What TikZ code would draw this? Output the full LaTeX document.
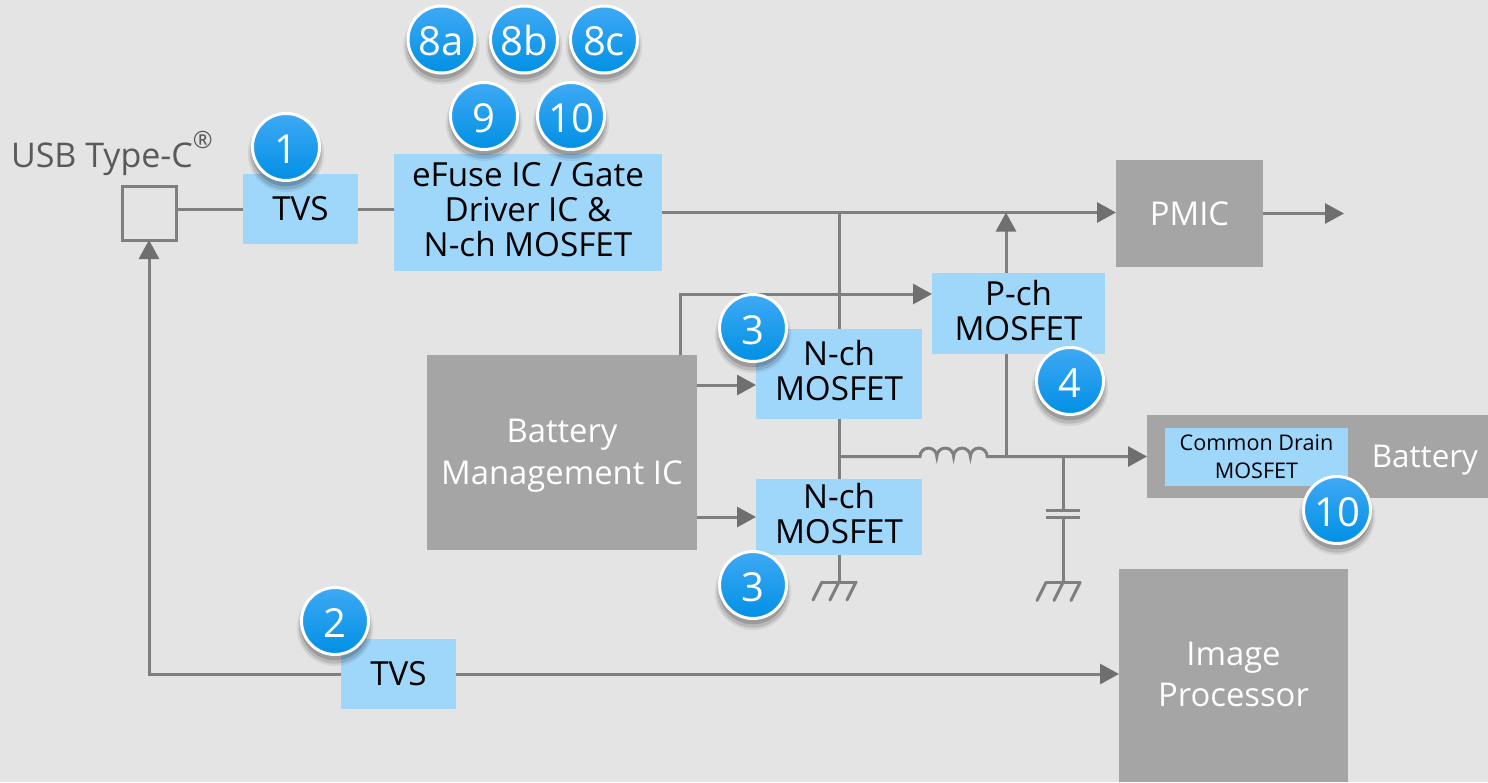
\documentclass[tikz,border=0pt]{standalone}
\usepackage{fontspec}
\setmainfont{Open Sans}
\usetikzlibrary{positioning,arrows.meta,shadows}
\definecolor{pagegray}{HTML}{E4E4E4}
\definecolor{wiregray}{HTML}{7F7F7F}
\definecolor{tipgray}{HTML}{6F6F6F}
\definecolor{boxgray}{HTML}{A5A5A5}
\definecolor{partblue}{HTML}{9FD7FB}
\definecolor{labelgray}{HTML}{595959}
\definecolor{badgetop}{HTML}{3FA9F5}
\definecolor{badgemid}{HTML}{04A0FB}
\definecolor{badgelow}{HTML}{0090E4}
\newcommand{\partfont}{\fontsize{16.6}{17.5}\selectfont}
\newcommand{\blockfont}{\fontsize{16.4}{21}\selectfont}
\newcommand{\badgesize}{33.5pt}
\tikzstyle{wire}=[draw=wiregray,line width=1.5pt]
\tikzstyle{arrowwire}=[wire,-{Triangle[length=9.5pt,width=10pt,color=tipgray]}]
\tikzstyle{port}=[fill=none,draw=wiregray,line width=1.5pt,shape=rectangle,
                  minimum size=27pt,outer sep=0pt]
\tikzstyle{part}=[fill=partblue,text=black,draw=none,shape=rectangle,inner sep=0pt,
                  outer sep=0pt,align=center,font=\partfont]
\tikzstyle{block}=[fill=boxgray,text=white,draw=none,shape=rectangle,inner sep=0pt,
                   outer sep=0pt,align=center,font=\blockfont]
\tikzstyle{caption}=[fill=none,draw=none,inner sep=0pt,outer sep=0pt]
\tikzstyle{badge}=[shape=circle,draw=white,line width=1.5pt,minimum size=\badgesize,
                   inner sep=0pt,outer sep=0pt,text=white,text height=16.3pt,text depth=0pt,
                   top color=badgetop,middle color=badgemid,bottom color=badgelow,
                   font=\fontsize{20}{20}\selectfont,
                   drop shadow={shadow xshift=0pt,shadow yshift=-3pt,shadow scale=1.14,fill=black,opacity=.07},
                   drop shadow={shadow xshift=0pt,shadow yshift=-3pt,shadow scale=1.08,fill=black,opacity=.12},
                   drop shadow={shadow xshift=0pt,shadow yshift=-2.5pt,shadow scale=1.02,fill=black,opacity=.16}]
\newcommand{\groundsym}[1]{
  \draw [wire, line cap=round] (#1) ++(-8.5pt,0) -- ++(17pt,0);
  \foreach \offs in {-8.5pt,0pt,8.5pt}
    \draw [wire, line cap=round] (#1) ++(\offs,0) -- ++(-4.5pt,-9pt);
}

\begin{document}
\begin{tikzpicture}[x=0.5pt,y=0.5pt]

\fill [pagegray] (0,0) rectangle (1488,-782);
\useasboundingbox (0,0) rectangle (1488,-782);

\node [port] (usb) at (149,-213) {};
\node [caption, above right= 5pt and -55.5pt of usb.north west, text=labelgray,
       font=\fontsize{17}{20}\selectfont] (usblabel) {USB Type-C\raisebox{3.5pt}{\textsuperscript{®}}};

\node [part, text depth=1pt, minimum width=57.5pt, minimum height=35pt, below right= -6pt and 60.5pt of usb.north west] (tvsone) {TVS};
\node [part, minimum width=134pt, minimum height=58.5pt, below right= -10pt and 75.5pt of tvsone.north west] (efuse)
      {eFuse IC / Gate\\Driver IC \&\\N-ch MOSFET\\[-14.5pt]\mbox{}};
\node [block, minimum width=73.5pt, minimum height=53.5pt, below right= 3pt and 361pt of efuse.north west] (pmic) {PMIC};
\node [block, minimum width=135pt, minimum height=97.5pt, below right= 100.5pt and 16.5pt of efuse.north west] (bms)
      {\mbox{}\\[-6.5pt]Battery\\Management IC};
\node [part, minimum width=83pt, minimum height=45pt, below right= -13pt and 164.5pt of bms.north west] (nchtop)
      {N-ch\\MOSFET\\[-13.5pt]\mbox{}};
\node [part, minimum width=83pt, minimum height=38pt, below right= 75pt and 0pt of nchtop.north west] (nchbot)
      {N-ch\\MOSFET\\[-14pt]\mbox{}};
\node [part, minimum width=86.5pt, minimum height=40.5pt, below right= -28pt and 88pt of nchtop.north west] (pch)
      {P-ch\\MOSFET\\[-14.5pt]\mbox{}};
\node [block, minimum width=170.5pt, minimum height=41.5pt, below right= 71pt and 107.5pt of pch.north west] (battery) {};
\node [caption, left= 5pt of battery.east, yshift=-2pt, text=white, font=\fontsize{15.7}{20}\selectfont] (batterylabel) {Battery};
\node [part, minimum width=91.5pt, minimum height=29pt, below right= 6.5pt and 9pt of battery.north west,
       font=\fontsize{10.8}{14}\selectfont] (drain) {Common Drain\\MOSFET};
\node [block, minimum width=114.5pt, minimum height=106.5pt, below right= 77pt and -14pt of battery.north west] (image)
      {Image\\[-0.5pt]Processor\\[-20pt]\mbox{}};
\node [part, text depth=1pt, minimum width=57.5pt, minimum height=35pt, below right= 226.5pt and 109.5pt of usb.north west] (tvstwo) {TVS};

\coordinate [right= 40.5pt of pmic.east] (pmicout);
\coordinate [right= 37pt of pch.north west] (pchout);
\coordinate [right= 37pt of pch.south west] (pchtap);
\coordinate [below= 10.5pt of pch.north west] (pchgate);
\coordinate [right= 126.5pt of bms.north west] (bmsgate);
\coordinate [below= 28pt of nchtop.north west] (ntopgate);
\coordinate (lstart) at (nchtop.south |- battery.west);
\coordinate [right= 40.5pt of lstart] (lin);
\coordinate [right= 112pt of lstart] (captap);
\coordinate [below= 27pt of captap] (capa);
\coordinate [below= 30.5pt of captap] (capb);
\coordinate [below= 63pt of captap] (gndb);
\coordinate [below= 13.5pt of nchbot.south] (gnda);

\draw [wire] (usb.east |- tvsone.west) -- (tvsone.west);
\draw [wire] (tvsone.east) -- (tvsone.east -| efuse.west);
\draw [arrowwire] (efuse.east) -- (efuse.east -| pmic.west);
\draw [arrowwire] (pmic.east) -- (pmicout);
\draw [wire] (nchtop.north) -- (nchtop.north |- efuse.east);
\draw [wire] (nchtop.south) -- (nchbot.north);
\draw [wire] (nchbot.south) -- (gnda);
\draw [arrowwire] (bmsgate) |- (pchgate);
\draw [arrowwire] (ntopgate -| bms.east) -- (ntopgate);
\draw [arrowwire] (nchbot.west -| bms.east) -- (nchbot.west);
\draw [arrowwire] (pchout) -- (pchout |- efuse.east);
\draw [wire] (pchtap) -- (pchtap |- battery.west);
\draw [arrowwire] (lstart) -- (lin) arc (180:0:4.2pt) arc (180:0:4.2pt) arc (180:0:4.2pt) arc (180:0:4.2pt) -- (battery.west);
\draw [wire] (captap) -- (capa);
\draw [wire] (capb) -- (gndb);
\draw [wire] (capa) ++(-8.5pt,0) -- ++(17pt,0);
\draw [wire] (capb) ++(-8.5pt,0) -- ++(17pt,0);
\groundsym{gnda}
\groundsym{gndb}
\draw [arrowwire] (tvstwo.west) -| (usb.south);
\draw [arrowwire] (tvstwo.east) -- (tvstwo.east -| image.west);

\node [badge] (b1) at (286,-147) {1};
\node [badge] (b2) at (335,-621) {2};
\node [badge] (b3a) at (753,-328) {3};
\node [badge] (b3b) at (753,-585) {3};
\node [badge] (b4) at (1070,-381) {4};
\node [badge] (b8a) at (441.5,-39.5) {8a};
\node [badge] (b8b) at (524,-39.5) {8b};
\node [badge] (b8c) at (604,-39.5) {8c};
\node [badge] (b9) at (484,-116) {9};
\node [badge] (b10a) at (571,-116) {10};
\node [badge] (b10b) at (1337,-510) {10};
\end{tikzpicture}
\end{document}
